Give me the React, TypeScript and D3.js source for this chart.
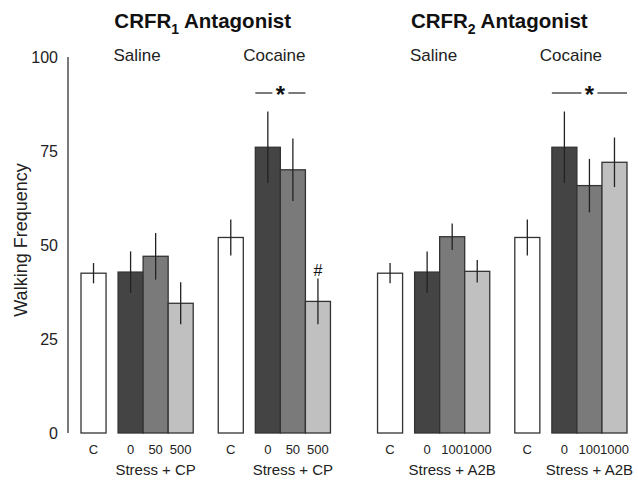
import React from 'react';
import * as d3 from 'd3';

// Panel / group labels
const panels = ['CRFR1', 'CRFR2'];
const panelSub = ['1', '2'];
const conditions = ['Saline', 'Cocaine'];
const doseLabels = [
  ['C', '0', '50', '500'],
  ['C', '0', '100', '1000'],
];
const treatLabels = ['Stress + CP', 'Stress + A2B'];

// Walking frequency (mean, sem) per panel -> condition -> bar
const crfr1Saline = [42.5, 42.8, 47, 34.5];
const crfr1SalineErr = [2.7, 5.5, 6.2, 5.6];
const crfr1Cocaine = [52, 76, 70, 35];
const crfr1CocaineErr = [4.8, 9.5, 8.3, 6.1];
const crfr2Saline = [42.5, 42.8, 52.2, 43];
const crfr2SalineErr = [2.7, 5.5, 3.5, 3];
const crfr2Cocaine = [52, 76, 65.8, 72];
const crfr2CocaineErr = [4.8, 9.5, 7.1, 6.6];

const yTicks = [0, 25, 50, 75, 100];

const fills = ['#ffffff', '#444444', '#7a7a7a', '#c0c0c0'];

const W = 638;
const H = 481;

const App: React.FC = () => {
  const y = d3.scaleLinear().domain([0, 100]).range([433, 57]);

  // layout in "bar units": C bar, small gap, three stress bars
  const barW = 1;
  const gapC = 0.48;
  const gapGroup = 1.0;
  const gapPanel = 1.88;
  const groupUnits = barW + gapC + 3 * barW;
  const panelUnits = 2 * groupUnits + gapGroup;
  const total = 2 * panelUnits + gapPanel;
  const x = d3.scaleLinear().domain([0, total]).range([81, 627]);
  const bw = x(1) - x(0);

  const barStart = (p: number, g: number, i: number) => {
    const base = p * (panelUnits + gapPanel) + g * (groupUnits + gapGroup);
    return base + (i === 0 ? 0 : barW + gapC + (i - 1) * barW);
  };

  const series = [
    [
      { v: crfr1Saline, e: crfr1SalineErr },
      { v: crfr1Cocaine, e: crfr1CocaineErr },
    ],
    [
      { v: crfr2Saline, e: crfr2SalineErr },
      { v: crfr2Cocaine, e: crfr2CocaineErr },
    ],
  ];

  const font = 'Liberation Sans, Arial, sans-serif';

  return (
    <svg width={W} height={H} style={{ display: 'block', position: 'absolute', left: 0, top: 0, background: '#fff' }}>
      <rect width={W} height={H} fill="#fff" />
      {/* y axis */}
      <line x1={68} x2={68} y1={y(100)} y2={y(0)} stroke="#333" strokeWidth={1.3} />
      {yTicks.map((t) => (
        <text key={t} x={58} y={y(t)} dy="0.38em" textAnchor="end" fontSize={16} fontFamily={font} fill="#222">
          {t}
        </text>
      ))}
      <text
        transform={`translate(27,240) rotate(-90)`}
        textAnchor="middle"
        fontSize={18}
        fontFamily={font}
        fill="#222"
      >
        Walking Frequency
      </text>

      {panels.map((p, pi) => {
        const pStart = x(pi * (panelUnits + gapPanel));
        const pEnd = x(pi * (panelUnits + gapPanel) + panelUnits);
        const cx = (pStart + pEnd) / 2 - 3;
        return (
          <g key={p}>
            <text x={cx} y={28} textAnchor="middle" fontSize={20.5} fontWeight="bold" fontFamily={font} fill="#111">
              CRFR<tspan fontSize={14} dy={6}>{panelSub[pi]}</tspan>
              <tspan dy={-6}> Antagonist</tspan>
            </text>
            {conditions.map((c, gi) => {
              const g0 = x(barStart(pi, gi, 0));
              const g1 = x(barStart(pi, gi, 3) + barW);
              const s = series[pi][gi];
              const gmid = (g0 + g1) / 2;
              const tmid = (x(barStart(pi, gi, 1)) + g1) / 2;
              const l0 = x(barStart(pi, gi, 1));
              const l1 = pi === 0 ? x(barStart(pi, gi, 3)) : x(barStart(pi, gi, 3) + barW);
              const m = (l0 + l1) / 2;
              return (
                <g key={c}>
                  <text x={gmid} y={61} textAnchor="middle" fontSize={17} fontFamily={font} fill="#222">
                    {c}
                  </text>
                  {s.v.map((v, i) => {
                    const bx = x(barStart(pi, gi, i));
                    return (
                      <g key={i}>
                        <rect
                          x={bx}
                          y={y(v)}
                          width={bw}
                          height={y(0) - y(v)}
                          fill={fills[i]}
                          stroke="#333"
                          strokeWidth={1.3}
                        />
                        <line
                          x1={bx + bw / 2}
                          x2={bx + bw / 2}
                          y1={y(v + s.e[i])}
                          y2={y(v - s.e[i])}
                          stroke="#222"
                          strokeWidth={1.3}
                        />
                        <text
                          x={bx + bw / 2}
                          y={454}
                          textAnchor="middle"
                          fontSize={13}
                          fontFamily={font}
                          fill="#222"
                        >
                          {doseLabels[pi][i]}
                        </text>
                      </g>
                    );
                  })}
                  <text x={tmid} y={475} textAnchor="middle" fontSize={15} fontFamily={font} fill="#222">
                    {treatLabels[pi]}
                  </text>
                  {gi === 1 && (
                    <g>
                      <line x1={l0} x2={m - 8} y1={93} y2={93} stroke="#222" strokeWidth={1.2} />
                      <line x1={m + 8} x2={l1} y1={93} y2={93} stroke="#222" strokeWidth={1.2} />
                      <text x={m} y={103} textAnchor="middle" fontSize={24} fontWeight="bold" fontFamily={font} fill="#111">
                        *
                      </text>
                    </g>
                  )}
                  {pi === 0 && gi === 1 && (
                    <text
                      x={x(barStart(pi, gi, 3)) + bw / 2}
                      y={276}
                      textAnchor="middle"
                      fontSize={16}
                      fontFamily={font}
                      fill="#111"
                    >
                      #
                    </text>
                  )}
                </g>
              );
            })}
          </g>
        );
      })}
    </svg>
  );
};

export default App;
